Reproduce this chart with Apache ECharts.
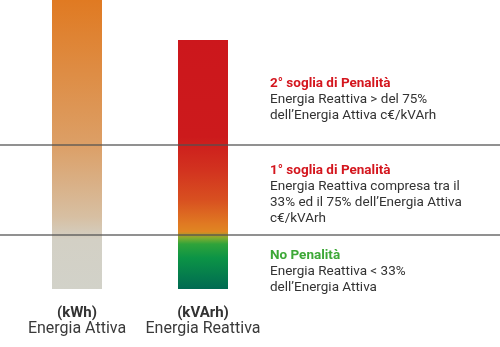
<!DOCTYPE html>
<html>
<head>
<meta charset="utf-8">
<script src="https://cdn.jsdelivr.net/npm/echarts@6/dist/echarts.min.js"></script>
<style>
  html, body { margin: 0; padding: 0; background: #fff; }
  #chart { width: 500px; height: 347px; }
</style>
</head>
<body>
<div id="chart"></div>
<script>
// Units and names of the two energy columns
const units = ['(kWh)', '(kVArh)'];
const names = ['Energia Attiva', 'Energia Reattiva'];
// Column heights on a 0–100 scale (active energy = 100)
const values = [100, 86.2];
// Penalty thresholds drawn as horizontal rules
const thresholds = [18.6, 49.8];

// Legend blocks on the right: heading + description
const bandTitles = ['2° soglia di Penalità', '1° soglia di Penalità', 'No Penalità'];
const bandTexts = [
  'Energia Reattiva > del 75%\ndell’Energia Attiva c€/kVArh',
  'Energia Reattiva compresa tra il\n33% ed il 75% dell’Energia Attiva\nc€/kVArh',
  'Energia Reattiva < 33%\ndell’Energia Attiva'
];
const bandColors = ['#D4161E', '#D4161E', '#3DA837'];
const bandTops = [76.5, 164, 248.5];

const G = echarts.graphic.LinearGradient;
const fills = [
  new G(0, 0, 0, 1, [
    { offset: 0, color: '#E07A22' },
    { offset: 0.5, color: '#DC9F66' },
    { offset: 0.75, color: '#D7BFA2' },
    { offset: 0.83, color: '#D3D0C5' },
    { offset: 1, color: '#D2D2C9' }
  ]),
  new G(0, 0, 0, 1, [
    { offset: 0, color: '#CC171C' },
    { offset: 0.39, color: '#CC1A1C' },
    { offset: 0.52, color: '#D2321F' },
    { offset: 0.64, color: '#D84F20' },
    { offset: 0.74, color: '#E07A22' },
    { offset: 0.77, color: '#E08622' },
    { offset: 0.795, color: '#7EAD30' },
    { offset: 0.82, color: '#2FA33A' },
    { offset: 0.875, color: '#0C9446' },
    { offset: 1, color: '#006A52' }
  ])
];

const chart = echarts.init(document.getElementById('chart'));
const font = 'Roboto, "Noto Sans", sans-serif';

chart.setOption({
  animation: false,
  grid: [
    { left: 14, width: 252, top: 0, bottom: 58 },
    { left: 0, right: 0, top: 0, bottom: 58 }
  ],
  xAxis: [
    {
      type: 'category', gridIndex: 0,
      data: names,
      axisLine: { show: false }, axisTick: { show: false },
      axisLabel: {
        interval: 0,
        hideOverlap: false,
        margin: 16,
        formatter: (v, i) => '{u|' + units[i] + '}\n{n|' + names[i] + '}',
        rich: {
          u: { fontFamily: font, fontSize: 15, fontWeight: 'bold', color: '#333', lineHeight: 16 },
          n: { fontFamily: font, fontSize: 16, color: '#3a3a3a', lineHeight: 16 }
        }
      }
    },
    { type: 'value', gridIndex: 1, min: 0, max: 1, show: false }
  ],
  yAxis: [
    { type: 'value', gridIndex: 0, min: 0, max: 100, show: false },
    { type: 'value', gridIndex: 1, min: 0, max: 100, show: false }
  ],
  series: [
    {
      type: 'bar', xAxisIndex: 0, yAxisIndex: 0,
      barWidth: 50,
      data: values.map((v, i) => ({ value: v, itemStyle: { color: fills[i] } })),
      z: 1
    },
    {
      type: 'line', xAxisIndex: 1, yAxisIndex: 1, data: [],
      z: 5,
      markLine: {
        silent: true, symbol: 'none', label: { show: false },
        lineStyle: { color: 'rgba(80,80,80,0.63)', width: 2, type: 'solid' },
        data: thresholds.map(t => ({ yAxis: t }))
      }
    }
  ],
  graphic: bandTitles.map((t, i) => ({
    type: 'text', left: 270, top: bandTops[i],
    style: {
      text: '{h|' + t + '}\n{b|' + bandTexts[i].split('\n').join('}\n{b|') + '}',
      rich: {
        h: { fontFamily: font, fontSize: 13.5, fontWeight: 'bold', fill: bandColors[i], lineHeight: 16 },
        b: { fontFamily: font, fontSize: 13.5, fill: '#333', lineHeight: 16 }
      }
    }
  }))
});
</script>
</body>
</html>
